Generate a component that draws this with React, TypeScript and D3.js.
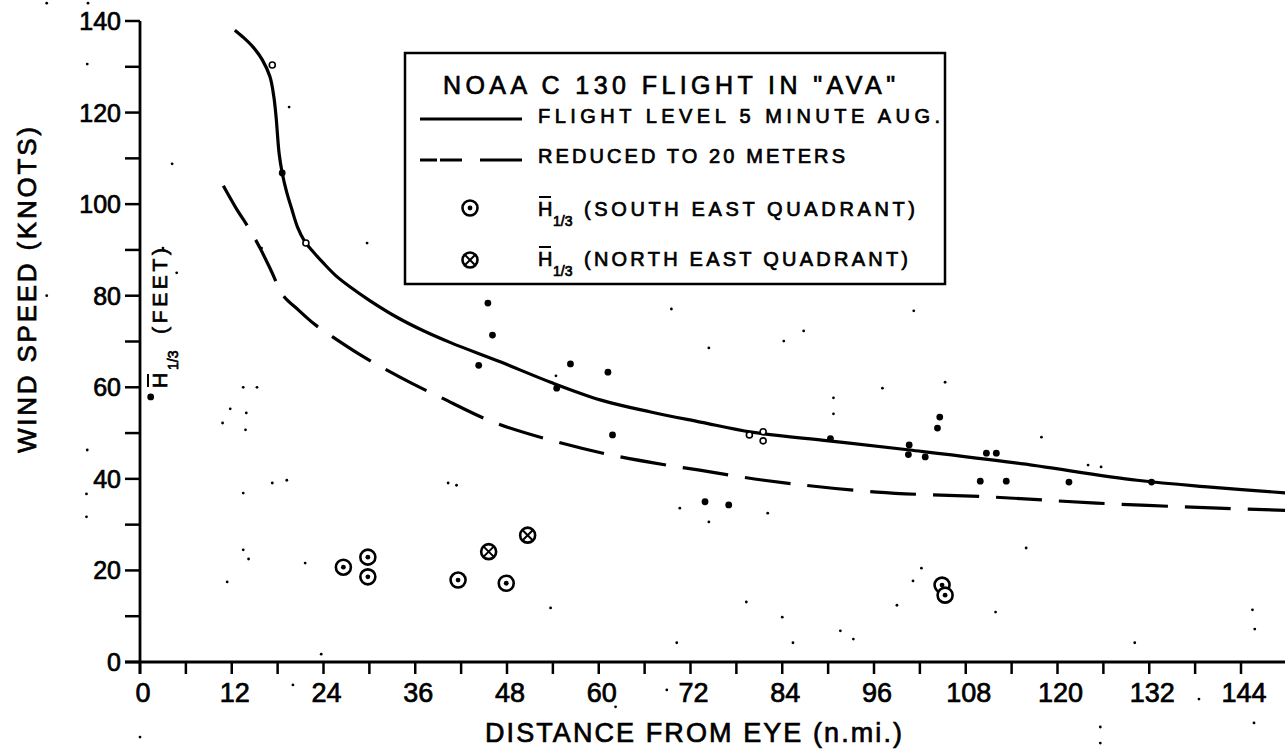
import React from "react";
import * as d3 from "d3";

// ---------- data ----------
const xTickValues = [0, 12, 24, 36, 48, 60, 72, 84, 96, 108, 120, 132, 144];
const yTickValues = [0, 20, 40, 60, 80, 100, 120, 140];

// flight level 5 minute average wind (knots) vs distance (n.mi.)
const flightLevel: [number, number][] = [
  [12.4, 138], [13.6, 136.3], [14.8, 134.3], [16, 131.5], [17, 127.8], [17.5, 123.5],
  [17.8, 119], [18.2, 111], [18.6, 106.8], [19.2, 102.5], [19.8, 99.2], [20.6, 95],
  [21.5, 92], [22.7, 89.5], [24, 87.1], [25.6, 84.4], [27.5, 81.9], [30, 79],
  [33.6, 75.3], [37, 72.4], [40.7, 69.7], [47.2, 65.5], [53.7, 61.1], [60.3, 57.2],
  [66.8, 54.6], [73.3, 52.4], [80, 50.2], [90.1, 48.3], [100.7, 46.3], [114.5, 43.5],
  [130.4, 39.7], [140, 38.2], [150, 36.9],
];

// reduced to 20 meters
const reduced20m: [number, number][] = [
  [10.9, 104], [12.5, 99.3], [14.4, 94.3], [15.7, 90.4], [17.2, 85.3], [18.7, 80.1],
  [20.7, 76.9], [22.8, 73.8], [25.2, 71], [28.5, 67.4], [31.8, 64.2], [35.5, 60.9],
  [39.2, 57.9], [46.2, 52.4], [53.6, 48.5], [61.1, 45.4], [68.9, 43], [73.2, 41.9],
  [81.6, 39.7], [96.4, 37.1], [111.8, 36], [125.1, 34.7], [141, 33.6], [150, 33.1],
];

// individual observations (filled dots)
const windObs: [number, number][] = [
  [1.4, 57.9], [18.6, 106.8], [45.5, 78.4], [46.1, 71.4], [44.3, 64.8], [56.3, 65.1],
  [61.2, 63.3], [54.5, 59.8], [61.8, 49.6], [90.3, 48.8], [100.6, 47.4], [100.5, 45.3],
  [102.7, 44.8], [104.6, 53.5], [104.3, 51.1], [110.7, 45.6], [112, 45.6], [109.9, 39.5],
  [113.3, 39.5], [121.5, 39.3], [132.3, 39.3], [73.9, 35], [77, 34.3],
];

// small open circles on the curve
const openObs: [number, number][] = [
  [17.3, 130.4], [21.7, 91.5], [79.7, 49.6], [81.5, 50.3], [81.5, 48.3],
];

// H1/3 (feet) south east quadrant
const seQuadrant: [number, number][] = [
  [26.6, 20.7], [29.8, 22.9], [29.8, 18.6], [41.6, 17.9], [47.9, 17.2], [104.9, 16.8], [105.3, 14.6],
];

// H1/3 (feet) north east quadrant
const neQuadrant: [number, number][] = [
  [45.6, 24.1], [50.7, 27.7],
];

// scan specks
const specks: [number, number][] = [
  [-12.2, 143.9], [-6.8, 143.9], [-6.9, 130.6], [4.2, 108.8], [19.5, 121.2], [15.9, 90.4],
  [3, 90.4], [-12.2, 80], [4.8, 85], [13.5, 60], [15.3, 60], [11.8, 55.3], [13.9, 54.4],
  [10.8, 52.2], [13.8, 50.7], [17.3, 39.1], [19.2, 39.7], [-6.9, 46.3], [13.5, 36.9],
  [13.5, 24.5], [14.2, 22.5], [11.4, 17.5], [21.6, 21.6], [23.7, 1.7], [20, -5], [0, -16.4],
  [-7, 36.7], [-7, 31.7], [53.7, 11.8], [70.2, 4.2], [79.3, 13.1], [84, 9.8], [85.4, 4.2],
  [91.6, 6.8], [93.3, 5], [62.2, -9.8], [68.9, -6.1], [99, 12.4], [111.9, 10.9], [130.1, 4.2],
  [145.5, 11.4], [145.8, 7.2], [138.5, -8.1], [125.6, -14.2], [125.6, -17.7], [145.7, -13.3],
  [69.5, 77.1], [54.4, 62.5], [40.3, 39.1], [41.4, 38.6], [70.6, 33.6], [74.4, 68.6],
  [84.2, 70.1], [86.8, 72.3], [90.7, 57.7], [90.7, 54.2], [97.1, 59.8], [101.2, 76.7],
  [105.3, 61.1], [117.9, 49.1], [124, 43], [125.7, 42.6], [115.9, 24.9], [74.4, 30.6],
  [82.1, 32.5], [102.2, 20.5], [101.1, 17.7], [29.7, 91.5],
];

// ---------- chart ----------
const W = 1285;
const H = 750;
const FONT = "'Liberation Sans', Arial, sans-serif";
const TXT = { fontFamily: FONT, fill: "black", stroke: "black", strokeWidth: 0.7 } as const;

export default function App() {
  const x = d3.scaleLinear().domain([0, 144]).range([140, 1241]);
  const y = d3.scaleLinear().domain([0, 140]).range([662, 21]);

  const line = d3
    .line<[number, number]>()
    .x((d) => x(d[0]))
    .y((d) => y(d[1]))
    .curve(d3.curveCatmullRom.alpha(0.5));

  const minorX = d3.range(0, 145, 6);
  const minorY = d3.range(0, 141, 10);

  const circleDot = (cx: number, cy: number, key: string) => (
    <g key={key}>
      <circle cx={cx} cy={cy} r={7.5} fill="white" stroke="black" strokeWidth={2.6} />
      <circle cx={cx} cy={cy} r={2.4} fill="black" />
    </g>
  );
  const circleX = (cx: number, cy: number, key: string) => (
    <g key={key}>
      <circle cx={cx} cy={cy} r={7.5} fill="white" stroke="black" strokeWidth={2.6} />
      <line x1={cx - 5} y1={cy - 5} x2={cx + 5} y2={cy + 5} stroke="black" strokeWidth={2} />
      <line x1={cx - 5} y1={cy + 5} x2={cx + 5} y2={cy - 5} stroke="black" strokeWidth={2} />
    </g>
  );

  const hLabel = (x0: number, base: number, rest: string, restEnd: number, key: string) => (
    <g key={key} {...TXT}>
      <line x1={x0 + 1} y1={base - 19} x2={x0 + 13} y2={base - 19} stroke="black" strokeWidth={2} />
      <text x={x0} y={base} fontSize={20}>H</text>
      <text x={x0 + 15} y={base + 10} fontSize={14}>1/3</text>
      <text x={x0 + 46} y={base} fontSize={20} textLength={restEnd - (x0 + 46)} lengthAdjust="spacing">
        {rest}
      </text>
    </g>
  );

  return (
    <svg
      width={W}
      height={H}
      style={{ position: "absolute", left: 0, top: 0, background: "white" }}
    >
      <rect x={0} y={0} width={W} height={H} fill="white" />

      {/* specks */}
      {specks.map((d, i) => (
        <circle key={"s" + i} cx={x(d[0])} cy={y(d[1])} r={1.4} fill="black" />
      ))}

      {/* axes */}
      <line x1={125} x2={W} y1={y(0)} y2={y(0)} stroke="black" strokeWidth={3} />
      <line x1={x(0)} x2={x(0)} y1={y(0) + 12} y2={y(140)} stroke="black" strokeWidth={2.8} />
      {minorX.map((v) => (
        <line key={"xt" + v} x1={x(v)} x2={x(v)} y1={y(0)} y2={y(0) + 12} stroke="black" strokeWidth={2.5} />
      ))}
      {minorY.map((v) => (
        <line key={"yt" + v} x1={x(0) - 15} x2={x(0)} y1={y(v)} y2={y(v)} stroke="black" strokeWidth={2.5} />
      ))}
      {xTickValues.map((v) => (
        <text key={"xl" + v} x={x(v) + 3} y={702} fontSize={27} textAnchor="middle" {...TXT}>
          {v}
        </text>
      ))}
      {yTickValues.map((v) => (
        <text key={"yl" + v} x={121} y={y(v) + 9} fontSize={25} textAnchor="end" {...TXT}>
          {v}
        </text>
      ))}

      {/* axis titles */}
      <text x={485} y={742} fontSize={27} textLength={417} lengthAdjust="spacing" {...TXT}>
        DISTANCE FROM EYE (n.mi.)
      </text>
      <text
        transform="translate(36,453) rotate(-90)"
        x={0}
        y={0}
        fontSize={26}
        textLength={326}
        lengthAdjust="spacing"
        {...TXT}
      >
        WIND SPEED (KNOTS)
      </text>
      <g transform="translate(167,388) rotate(-90)" {...TXT}>
        <line x1={1} x2={14} y1={-19} y2={-19} stroke="black" strokeWidth={2} />
        <text x={0} y={0} fontSize={21}>H</text>
        <text x={18} y={11} fontSize={14}>1/3</text>
        <text x={54} y={0} fontSize={21} textLength={86} lengthAdjust="spacing">(FEET)</text>
      </g>

      {/* curves */}
      <path d={line(flightLevel) || ""} fill="none" stroke="black" strokeWidth={3.2} />
      <path
        d={line(reduced20m) || ""}
        fill="none"
        stroke="black"
        strokeWidth={3.2}
        strokeDasharray="46,17"
      />

      {/* observations */}
      {windObs.map((d, i) => (
        <circle key={"w" + i} cx={x(d[0])} cy={y(d[1])} r={3.4} fill="black" />
      ))}
      {openObs.map((d, i) => (
        <circle key={"o" + i} cx={x(d[0])} cy={y(d[1])} r={3} fill="white" stroke="black" strokeWidth={1.6} />
      ))}
      {seQuadrant.map((d, i) => circleDot(x(d[0]), y(d[1]), "se" + i))}
      {neQuadrant.map((d, i) => circleX(x(d[0]), y(d[1]), "ne" + i))}

      {/* legend */}
      <rect x={405} y={53} width={540} height={231} fill="white" stroke="black" strokeWidth={2.5} />
      <text x={443} y={94} fontSize={25} textLength={452} lengthAdjust="spacing" {...TXT}>
        NOAA C 130 FLIGHT IN "AVA"
      </text>
      <line x1={420} x2={522} y1={119} y2={119} stroke="black" strokeWidth={3} />
      <text x={538} y={123} fontSize={20} textLength={402} lengthAdjust="spacing" {...TXT}>
        FLIGHT LEVEL 5 MINUTE AUG.
      </text>
      <line
        x1={420}
        x2={522}
        y1={160}
        y2={160}
        stroke="black"
        strokeWidth={3}
        strokeDasharray="17,3,22,18,42"
      />
      <text x={538} y={163} fontSize={20} textLength={307} lengthAdjust="spacing" {...TXT}>
        REDUCED TO 20 METERS
      </text>
      {circleDot(470, 208, "legse")}
      {hLabel(538, 216, "(SOUTH EAST QUADRANT)", 915, "lh3")}
      {circleX(470, 260, "legne")}
      {hLabel(538, 266, "(NORTH EAST QUADRANT)", 908, "lh4")}
    </svg>
  );
}
